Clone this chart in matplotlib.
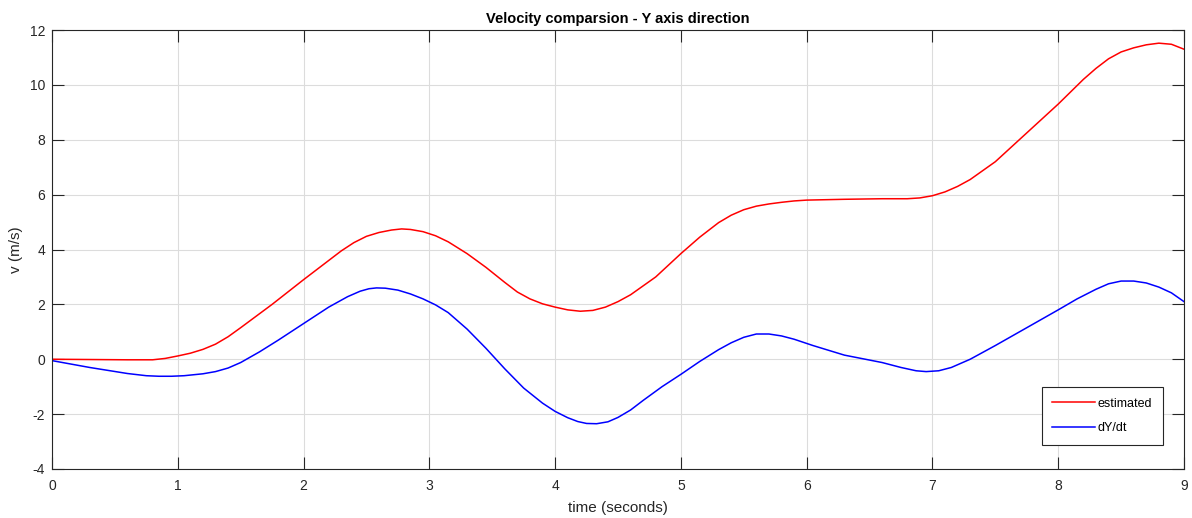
import matplotlib.pyplot as plt

# (seconds, m/s)
t_est = [0, 0.3, 0.6, 0.8, 0.9, 1.0, 1.1, 1.2, 1.3, 1.4, 1.5, 1.75, 2.0, 2.1, 2.2, 2.3, 2.4,
         2.5, 2.6, 2.7, 2.78, 2.85, 2.95, 3.05, 3.15, 3.3, 3.45, 3.6, 3.7, 3.8, 3.9, 4.0,
         4.1, 4.2, 4.3, 4.4, 4.5, 4.6, 4.8, 5.0, 5.15, 5.3, 5.4, 5.5, 5.6, 5.7, 5.8, 5.9,
         6.0, 6.3, 6.6, 6.8, 6.9, 7.0, 7.1, 7.2, 7.3, 7.5, 7.75, 8.0, 8.1, 8.2, 8.3, 8.4,
         8.5, 8.6, 8.7, 8.8, 8.9, 9.0]
v_est = [0, -0.01, -0.02, -0.02, 0.03, 0.12, 0.22, 0.36, 0.55, 0.82, 1.15, 2.0, 2.9, 3.25, 3.6,
         3.95, 4.25, 4.48, 4.62, 4.71, 4.75, 4.73, 4.65, 4.5, 4.28, 3.85, 3.35, 2.8, 2.45, 2.2,
         2.02, 1.9, 1.8, 1.75, 1.78, 1.9, 2.1, 2.35, 3.0, 3.85, 4.45, 4.98, 5.25, 5.45, 5.58,
         5.66, 5.72, 5.77, 5.8, 5.83, 5.85, 5.85, 5.88, 5.96, 6.1, 6.3, 6.55, 7.2, 8.25, 9.3,
         9.75, 10.2, 10.6, 10.95, 11.2, 11.35, 11.46, 11.52, 11.48, 11.3]

t_dy = [0, 0.3, 0.6, 0.75, 0.85, 0.95, 1.05, 1.2, 1.3, 1.4, 1.5, 1.65, 1.8, 2.0, 2.2, 2.35,
        2.45, 2.52, 2.58, 2.65, 2.75, 2.85, 2.95, 3.05, 3.15, 3.3, 3.45, 3.6, 3.75, 3.9,
        4.0, 4.1, 4.18, 4.25, 4.33, 4.42, 4.5, 4.6, 4.7, 4.85, 5.0, 5.15, 5.3, 5.4, 5.5,
        5.6, 5.7, 5.8, 5.9, 6.05, 6.3, 6.6, 6.75, 6.87, 6.95, 7.05, 7.15, 7.3, 7.5, 7.75,
        8.0, 8.15, 8.3, 8.4, 8.5, 8.6, 8.7, 8.8, 8.9, 9.0]
v_dy = [-0.05, -0.3, -0.52, -0.6, -0.62, -0.62, -0.6, -0.53, -0.45, -0.32, -0.12, 0.27, 0.7,
        1.3, 1.9, 2.28, 2.48, 2.57, 2.6, 2.59, 2.52, 2.38, 2.2, 1.98, 1.7, 1.1, 0.4, -0.35,
        -1.05, -1.6, -1.9, -2.13, -2.27, -2.34, -2.35, -2.28, -2.12, -1.85, -1.5, -1.0,
        -0.55, -0.08, 0.35, 0.6, 0.8, 0.92, 0.92, 0.85, 0.73, 0.5, 0.15, -0.12, -0.3,
        -0.42, -0.45, -0.42, -0.3, 0.0, 0.5, 1.15, 1.8, 2.2, 2.55, 2.75, 2.85, 2.85, 2.78,
        2.63, 2.42, 2.1]

plt.rcParams['font.family'] = ['Liberation Sans', 'DejaVu Sans']
plt.rcParams['font.size'] = 10
plt.rcParams['axes.unicode_minus'] = False

fig = plt.figure(figsize=(11.92, 5.18), dpi=100)
ax = fig.add_axes([52 / 1192, 1 - 469 / 518, 1132 / 1192, 439 / 518])

ax.plot(t_est, v_est, color='#ff0000', lw=1.1, label='estimated')
ax.plot(t_dy, v_dy, color='#0000ff', lw=1.1, label='dY/dt')

ax.set_xlim(0, 9)
ax.set_ylim(-4, 12)
ax.set_xticks(range(0, 10))
ax.set_yticks(range(-4, 13, 2))
ax.grid(True, color='#dcdcdc', lw=0.8)
ax.set_axisbelow(True)
ax.tick_params(direction='in', length=8.5, width=0.8, top=True, right=True,
               colors='#262626', labelsize=10)
ax.tick_params(axis='x', pad=7)
ax.tick_params(axis='y', pad=5)
for s in ax.spines.values():
    s.set_color('#262626')
    s.set_linewidth(0.8)

ax.set_title('Velocity comparsion - Y axis direction', fontsize=10.5, fontweight='bold', pad=5)
ax.set_xlabel('time (seconds)', fontsize=11, color='#262626', labelpad=6)
ax.set_ylabel('v (m/s)', fontsize=11, color='#262626', labelpad=5)

leg = ax.legend(loc='lower right', bbox_to_anchor=(0.9815, 0.0547), fancybox=False,
                edgecolor='#262626', framealpha=1, fontsize=9, handlelength=3.4,
                borderpad=0.85, labelspacing=1.0, handletextpad=0.25, borderaxespad=0)
leg.get_frame().set_linewidth(0.8)

fig.savefig('out.png', dpi=100)
